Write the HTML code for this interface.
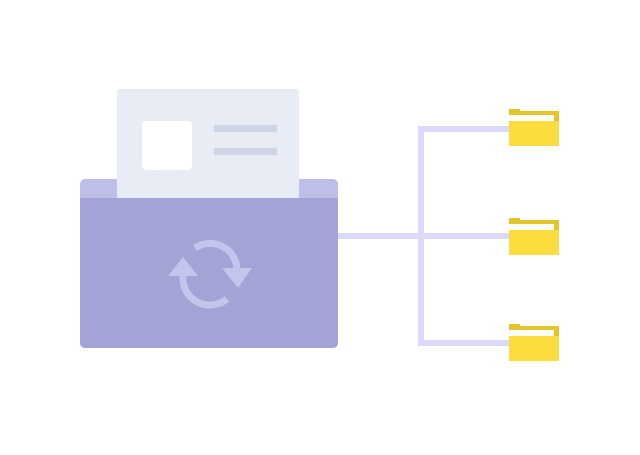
<!DOCTYPE html>
<html><head><style>body{margin:0;background:#fff}</style></head><body>
<svg width="640" height="450" viewBox="0 0 640 450" xmlns="http://www.w3.org/2000/svg">
<rect x="80" y="179" width="258" height="169" rx="5" fill="#bcc0e8"/>
<rect x="117" y="89" width="182" height="120" rx="3" fill="#e8ecf5"/>
<rect x="142" y="121" width="50" height="49" rx="4" fill="#fff"/>
<rect x="214" y="125" width="63" height="7" fill="#cfd5e5"/>
<rect x="214" y="148" width="63" height="7" fill="#cfd5e5"/>
<path d="M80 198H338V343a5 5 0 0 1-5 5H85a5 5 0 0 1-5-5Z" fill="#a1a4d4"/>
<g fill="none" stroke="#c3c5ec" stroke-width="7">
<path d="M195 248 A27 27 0 0 1 237 268"/>
<path d="M183 276 A27 27 0 0 0 227 299"/>
</g>
<g fill="#c3c5ec">
<polygon points="222,268 252,268 238,288"/>
<polygon points="168,276 198,276 183,257"/>
</g>
<g fill="none" stroke="#dcd8fa" stroke-width="6">
<path d="M510 129H421V343H510"/>
<path d="M338 236H510"/>
</g>
<g id="f">
<rect x="509" y="109" width="11" height="5" fill="#e4c42a"/>
<rect x="509" y="111" width="50" height="35" fill="#e4c42a"/>
<rect x="509" y="115" width="45" height="6" fill="#fff"/>
<rect x="509" y="121" width="50" height="25" fill="#fcdd40"/>
</g>
<use href="#f" y="109"/>
<use href="#f" y="215"/>
</svg>
</body></html>
